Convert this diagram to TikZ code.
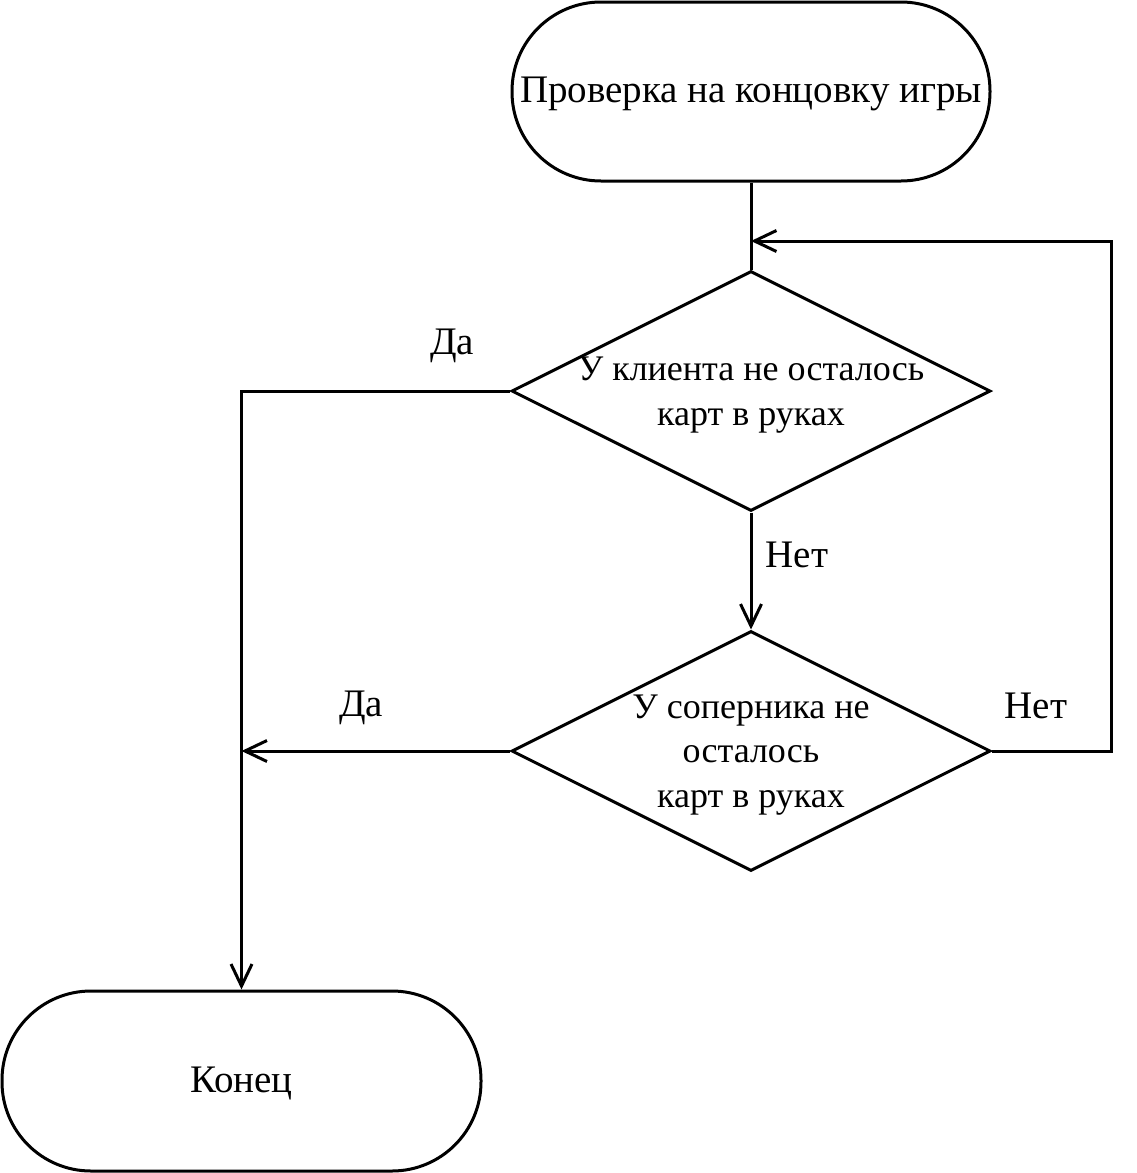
\documentclass[tikz,border=0pt]{standalone}
\usepackage{fontspec}
\setmainfont{Liberation Serif}
\usetikzlibrary{shapes.geometric,arrows.meta}
\begin{document}
\begin{tikzpicture}[x=1pt,y=-1pt,
  every node/.style={font=\fontsize{39}{45}\selectfont},
  line/.style={line width=3pt,line join=miter},
  arr/.style={line, -{Straight Barb[length=22pt,width=21pt,line width=3pt]}},
  term/.style={draw,line width=3pt,rectangle,inner sep=0pt},
  dia/.style={draw,line width=3pt,diamond,inner sep=0pt,minimum width=479pt,minimum height=240pt},
  txt/.style={align=center,inner sep=0pt},
  dtxt/.style={align=center,inner sep=0pt,font=\fontsize{36}{44.5}\selectfont},
  lbl/.style={inner sep=0pt}]
\useasboundingbox (0,0) rectangle (1137,1173);
\node[term,minimum width=478pt,minimum height=179pt,rounded corners=89pt] (start) at (751,91.5) {};
\node[txt] (t0) at (751,94) {Проверка на концовку игры};
\node[dia] (d1) at (751,391) {};
\node[dtxt] (t1) at (751,395) {У клиента не осталось\\карт в руках};
\node[dia] (d2) at (751,751) {};
\node[dtxt] (t2) at (751,755) {У соперника не\\осталось\\карт в руках};
\node[term,minimum width=479pt,minimum height=180pt,rounded corners=89pt] (end) at (241.5,1081) {};
\node[txt] (t3) at (241.5,1083) {Конец};
\coordinate (j) at (751,241);
\coordinate (k) at (241.5,751);
\draw[line] (start.south) -- (d1.north);
\draw[arr] (d1.west) -| (end.north);
\draw[arr] (d1.south) -- (d2.north);
\draw[arr] (d2.west) -- (k);
\draw[arr] (d2.east) -- (1111,751) |- (j);
\node[lbl] (l1) at (452,346) {Да};
\node[lbl] (l2) at (797,555) {Нет};
\node[lbl] (l3) at (361,708) {Да};
\node[lbl] (l4) at (1036,706) {Нет};
\end{tikzpicture}
\end{document}
